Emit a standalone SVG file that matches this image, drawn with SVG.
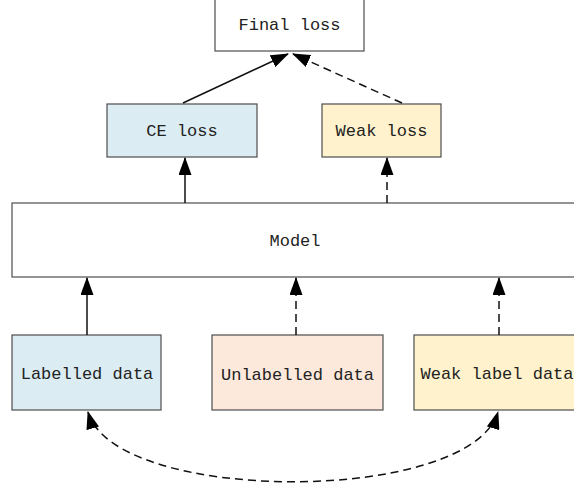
<svg xmlns="http://www.w3.org/2000/svg" width="574" height="488" viewBox="0 0 574 488">
  <style>
    .box { stroke: #4d4d4d; stroke-width: 1.2; }
    .lbl { font-family: "Liberation Mono", "DejaVu Sans Mono", monospace; font-size: 17px; fill: #222; text-anchor: middle; dominant-baseline: central; }
    .edge { fill: none; stroke: #111; stroke-width: 1.5; }
    .dash { stroke-dasharray: 8 5; }
  </style>
  <defs>
    <marker id="head" markerUnits="userSpaceOnUse" markerWidth="18" markerHeight="13" refX="17" refY="6.5" orient="auto-start-reverse">
      <path d="M0,0 L18,6.5 L0,13 z" fill="#000"/>
    </marker>
  </defs>

  <g id="final-loss">
    <rect class="box" x="215" y="-10" width="149" height="61" fill="#ffffff"/>
    <text class="lbl" x="289.5" y="25">Final loss</text>
  </g>
  <g id="ce-loss">
    <rect class="box" x="107" y="104" width="150" height="53" fill="#dbecf2"/>
    <text class="lbl" x="182" y="131">CE loss</text>
  </g>
  <g id="weak-loss">
    <rect class="box" x="322" y="104" width="119" height="53" fill="#fff2cc"/>
    <text class="lbl" x="381.5" y="131">Weak loss</text>
  </g>
  <g id="model">
    <rect class="box" x="12" y="203" width="566" height="74" fill="#ffffff"/>
    <text class="lbl" x="295" y="241">Model</text>
  </g>
  <g id="labelled-data">
    <rect class="box" x="12" y="335" width="149" height="75" fill="#dbecf2"/>
    <text class="lbl" x="87" y="374">Labelled data</text>
  </g>
  <g id="unlabelled-data">
    <rect class="box" x="212" y="335" width="171" height="75" fill="#fce9dc"/>
    <text class="lbl" x="297.5" y="375">Unlabelled data</text>
  </g>
  <g id="weak-label-data">
    <rect class="box" x="414" y="335" width="171" height="75" fill="#fff2cc"/>
    <text class="lbl" x="497" y="374">Weak label data</text>
  </g>

  <g id="connectors">
    <line class="edge" x1="87" y1="335" x2="87" y2="278" marker-end="url(#head)"/>
    <line class="edge dash" x1="296" y1="335" x2="296" y2="278" marker-end="url(#head)"/>
    <line class="edge dash" x1="499" y1="335" x2="499" y2="278" marker-end="url(#head)"/>
    <line class="edge" x1="185" y1="203" x2="185" y2="158" marker-end="url(#head)"/>
    <line class="edge dash" x1="387" y1="203" x2="387" y2="158" marker-end="url(#head)"/>
    <line class="edge" x1="183" y1="103" x2="288" y2="54" marker-end="url(#head)"/>
    <line class="edge dash" x1="402" y1="103" x2="293" y2="54" marker-end="url(#head)"/>
    <path class="edge dash" d="M88,412 C115,505 470,505 498,412" marker-start="url(#head)" marker-end="url(#head)"/>
  </g>
</svg>
